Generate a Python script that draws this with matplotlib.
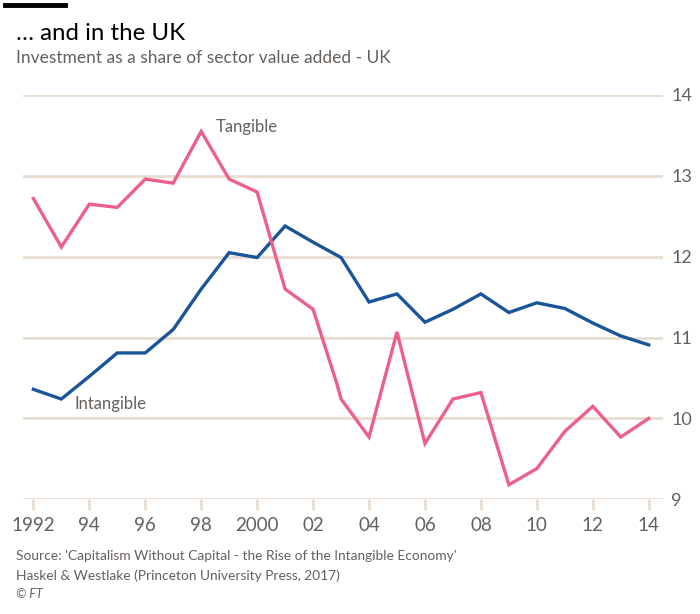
import matplotlib.pyplot as plt
import matplotlib.lines as mlines

# data (investment as % of sector value added, UK)
years = [1992, 1993, 1994, 1995, 1996, 1997, 1998, 1999, 2000, 2001, 2002,
         2003, 2004, 2005, 2006, 2007, 2008, 2009, 2010, 2011, 2012, 2013, 2014]
intangible = [10.36, 10.24, 10.52, 10.81, 10.81, 11.10, 11.6, 12.05, 11.99, 12.38, 12.18,
              11.99, 11.44, 11.54, 11.19, 11.35, 11.54, 11.31, 11.43, 11.36, 11.18, 11.02, 10.91]
tangible_years = [1992, 1993, 1994, 1995, 1996, 1997, 1998, 1999, 2000, 2001, 2002, 2002.85,
                  2003, 2004, 2005, 2006, 2007, 2008, 2009, 2010, 2011, 2012, 2013, 2014]
tangible = [12.72, 12.12, 12.65, 12.61, 12.96, 12.91, 13.55, 12.96, 12.80, 11.60, 11.35, 10.43,
            10.24, 9.77, 11.07, 9.69, 10.24, 10.32, 9.18, 9.38, 9.84, 10.15, 9.77, 10.0]

xticks = [1992, 1994, 1996, 1998, 2000, 2002, 2004, 2006, 2008, 2010, 2012, 2014]
xlabels = ['1992', '94', '96', '98', '2000', '02', '04', '06', '08', '10', '12', '14']
yticks = [9, 10, 11, 12, 13, 14]

plt.rcParams['font.family'] = ['Lato', 'DejaVu Sans']
grey = '#66605c'
grid_col = '#e9ddd2'
pink = '#ec5f8f'
blue = '#1a5599'

fig = plt.figure(figsize=(7, 6.14), dpi=100)
fig.patch.set_facecolor('white')
ax = fig.add_axes([23/700, 1-499.3/614, 640/700, (499.3-95)/614])

ax.plot(years, intangible, color=blue, lw=2.4, solid_joinstyle='miter')
ax.plot(tangible_years, tangible, color=pink, lw=2.4, solid_joinstyle='miter')

ax.set_xlim(1991.63, 2014.51)
ax.set_ylim(9, 14)
ax.set_yticks(yticks)
ax.set_xticks(xticks)
ax.set_xticklabels(xlabels)
ax.yaxis.tick_right()
ax.grid(axis='y', color=grid_col, lw=2)
ax.set_axisbelow(True)
for s in ax.spines.values():
    s.set_visible(False)
ax.tick_params(axis='y', length=0, pad=6, labelsize=13, labelcolor=grey)
ax.tick_params(axis='x', length=8, width=2, color=grid_col, pad=5,
               labelsize=13.5, labelcolor=grey)

ax.text(1998.53, 13.6, 'Tangible', color=grey, fontsize=12, va='center', ha='left')
ax.text(1993.48, 10.18, 'Intangible', color=grey, fontsize=12, va='center', ha='left')

# header and footer
fig.add_artist(mlines.Line2D([5/700, 65/700], [1-5/614, 1-5/614], color='black', lw=3.5))
fig.text(16/700, 1-33/614, '\u2026 and in the UK', fontsize=17.3, color='black', va='center')
fig.text(16/700, 1-58/614, 'Investment as a share of sector value added - UK',
         fontsize=12.5, color=grey, va='center')
fig.text(16/700, 1-556/614, "Source: 'Capitalism Without Capital - the Rise of the Intangible Economy'",
         fontsize=9.9, color=grey, va='center')
fig.text(16/700, 1-576/614, 'Haskel & Westlake (Princeton University Press, 2017)',
         fontsize=9.9, color=grey, va='center')
fig.text(16/700, 1-594/614, '\u00a9 FT', fontsize=9, color=grey, va='center', style='italic')

plt.savefig('out.png', dpi=100, facecolor='white')
